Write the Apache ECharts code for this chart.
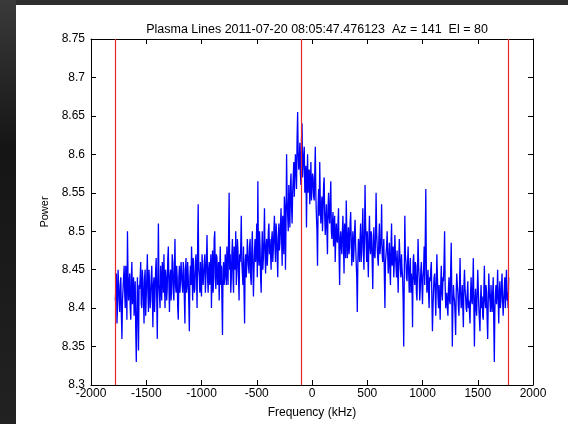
<!DOCTYPE html>
<html>
<head>
<meta charset="utf-8">
<script src="https://cdn.jsdelivr.net/npm/echarts@6/dist/echarts.min.js"></script>
<style>
html,body{margin:0;padding:0;background:#fff;}
#chart{width:568px;height:424px;}
</style>
</head>
<body>
<div id="chart"></div>
<script>
// Spectrum: frequency bins start/step (kHz)
var freqStart = -1780;
var freqStep = 10;
// Power values at bins freqStart + i*freqStep
var powerValues = [
  8.41, 8.445, 8.40, 8.43, 8.395, 8.44, 8.36, 8.425, 8.455, 8.40, 8.43, 8.50, 8.41, 8.445, 8.385, 8.46, 8.42, 8.39, 8.435, 8.33,
  8.44, 8.345, 8.425, 8.46, 8.40, 8.435, 8.38, 8.45, 8.415, 8.47, 8.395, 8.43, 8.41, 8.455, 8.375, 8.44, 8.42, 8.465, 8.36, 8.51,
  8.43, 8.455, 8.41, 8.445, 8.47, 8.40, 8.44, 8.425, 8.48, 8.395, 8.45, 8.43, 8.46, 8.41, 8.49, 8.42, 8.44, 8.385, 8.455, 8.435,
  8.46, 8.42, 8.45, 8.38, 8.465, 8.43, 8.44, 8.37, 8.455, 8.48, 8.41, 8.445, 8.425, 8.47, 8.40, 8.535, 8.44, 8.46, 8.415, 8.45,
  8.43, 8.47, 8.44, 8.495, 8.42, 8.46, 8.45, 8.40, 8.475, 8.44, 8.50, 8.425, 8.465, 8.445, 8.41, 8.48, 8.455, 8.365, 8.46, 8.44,
  8.45, 8.48, 8.43, 8.55, 8.47, 8.44, 8.49, 8.42, 8.465, 8.50, 8.45, 8.475, 8.41, 8.46, 8.52, 8.445, 8.48, 8.38, 8.47, 8.455,
  8.47, 8.445, 8.49, 8.43, 8.50, 8.415, 8.475, 8.46, 8.51, 8.565, 8.455, 8.48, 8.42, 8.50, 8.465, 8.53, 8.445, 8.49, 8.47, 8.51,
  8.49, 8.45, 8.50, 8.475, 8.52, 8.46, 8.495, 8.44, 8.51, 8.485, 8.53, 8.455, 8.50, 8.545, 8.45, 8.60, 8.52, 8.56, 8.505, 8.575,
  8.51, 8.57, 8.545, 8.60, 8.555, 8.655, 8.58, 8.615, 8.56, 8.64, 8.585, 8.61, 8.57, 8.505, 8.60, 8.575, 8.535, 8.59, 8.555, 8.57,
  8.54, 8.61, 8.52, 8.455, 8.555, 8.59, 8.51, 8.545, 8.525, 8.57, 8.495, 8.535, 8.47, 8.55, 8.51, 8.565, 8.49, 8.525, 8.505, 8.46,
  8.51, 8.485, 8.53, 8.43, 8.50, 8.47, 8.52, 8.445, 8.49, 8.54, 8.465, 8.505, 8.48, 8.525, 8.455, 8.50, 8.475, 8.515, 8.46, 8.395,
  8.49, 8.46, 8.51, 8.475, 8.53, 8.45, 8.56, 8.485, 8.50, 8.44, 8.52, 8.47, 8.495, 8.425, 8.505, 8.465, 8.55, 8.48, 8.455, 8.51,
  8.48, 8.535, 8.46, 8.49, 8.40, 8.47, 8.50, 8.445, 8.485, 8.43, 8.51, 8.465, 8.44, 8.495, 8.455, 8.475, 8.42, 8.49, 8.45, 8.47,
  8.44, 8.35, 8.52, 8.46, 8.435, 8.48, 8.42, 8.465, 8.445, 8.375, 8.47, 8.43, 8.455, 8.41, 8.49, 8.44, 8.425, 8.46, 8.405, 8.45,
  8.43, 8.555, 8.42, 8.45, 8.40, 8.435, 8.46, 8.37, 8.425, 8.445, 8.39, 8.47, 8.415, 8.43, 8.385, 8.455, 8.41, 8.435, 8.50, 8.40,
  8.42, 8.39, 8.44, 8.405, 8.485, 8.35, 8.43, 8.41, 8.365, 8.445, 8.42, 8.39, 8.465, 8.40, 8.43, 8.375, 8.45, 8.415, 8.395, 8.435,
  8.41, 8.38, 8.44, 8.405, 8.465, 8.35, 8.425, 8.39, 8.45, 8.40, 8.37, 8.43, 8.415, 8.385, 8.455, 8.40, 8.42, 8.36, 8.445, 8.41,
  8.43, 8.395, 8.44, 8.33, 8.42, 8.405, 8.45, 8.38, 8.435, 8.41, 8.445, 8.39, 8.425, 8.40, 8.45, 8.42, 8.44
];
// Power values at the in-between bins freqStart + i*freqStep + freqStep/2
var powerValuesMid = [
  8.425, 8.38, 8.45, 8.41, 8.43, 8.39, 8.41, 8.44, 8.42, 8.455, 8.385, 8.44, 8.43, 8.40, 8.44, 8.405, 8.44, 8.42, 8.37, 8.39,
  8.40, 8.43, 8.44, 8.405, 8.45, 8.41, 8.44, 8.39, 8.44, 8.42, 8.45, 8.40, 8.44, 8.42, 8.43, 8.395, 8.45, 8.41, 8.44, 8.43,
  8.40, 8.43, 8.46, 8.42, 8.43, 8.45, 8.41, 8.465, 8.43, 8.44, 8.41, 8.47, 8.42, 8.45, 8.43, 8.455, 8.40, 8.44, 8.42, 8.46,
  8.43, 8.46, 8.41, 8.45, 8.42, 8.46, 8.405, 8.44, 8.43, 8.45, 8.465, 8.42, 8.46, 8.44, 8.48, 8.45, 8.42, 8.43, 8.47, 8.43,
  8.46, 8.42, 8.465, 8.44, 8.45, 8.43, 8.47, 8.445, 8.42, 8.49, 8.44, 8.47, 8.43, 8.46, 8.45, 8.43, 8.41, 8.45, 8.43, 8.47,
  8.43, 8.455, 8.49, 8.45, 8.42, 8.47, 8.44, 8.48, 8.45, 8.43, 8.49, 8.44, 8.47, 8.48, 8.46, 8.43, 8.42, 8.46, 8.44, 8.49,
  8.455, 8.48, 8.44, 8.475, 8.46, 8.45, 8.49, 8.48, 8.44, 8.47, 8.50, 8.44, 8.47, 8.45, 8.49, 8.47, 8.48, 8.455, 8.50, 8.47,
  8.47, 8.49, 8.46, 8.50, 8.48, 8.51, 8.47, 8.49, 8.475, 8.51, 8.49, 8.52, 8.47, 8.53, 8.51, 8.54, 8.50, 8.53, 8.56, 8.53,
  8.55, 8.59, 8.575, 8.58, 8.62, 8.60, 8.59, 8.575, 8.62, 8.57, 8.60, 8.55, 8.585, 8.565, 8.55, 8.58, 8.56, 8.54, 8.575, 8.545,
  8.575, 8.545, 8.50, 8.53, 8.52, 8.54, 8.53, 8.50, 8.56, 8.52, 8.515, 8.50, 8.53, 8.52, 8.54, 8.50, 8.51, 8.48, 8.52, 8.49,
  8.49, 8.51, 8.47, 8.49, 8.48, 8.50, 8.48, 8.51, 8.465, 8.50, 8.49, 8.47, 8.51, 8.49, 8.48, 8.46, 8.50, 8.48, 8.44, 8.46,
  8.48, 8.49, 8.46, 8.50, 8.475, 8.49, 8.51, 8.46, 8.47, 8.49, 8.48, 8.50, 8.46, 8.48, 8.47, 8.49, 8.50, 8.465, 8.49, 8.47,
  8.49, 8.47, 8.475, 8.44, 8.46, 8.48, 8.47, 8.465, 8.45, 8.48, 8.455, 8.48, 8.46, 8.47, 8.44, 8.45, 8.46, 8.47, 8.44, 8.45,
  8.41, 8.44, 8.47, 8.44, 8.46, 8.445, 8.45, 8.42, 8.43, 8.46, 8.44, 8.46, 8.42, 8.45, 8.455, 8.41, 8.45, 8.43, 8.44, 8.48,
  8.49, 8.45, 8.43, 8.42, 8.44, 8.45, 8.41, 8.40, 8.44, 8.42, 8.43, 8.44, 8.40, 8.41, 8.43, 8.42, 8.44, 8.46, 8.43, 8.41,
  8.40, 8.425, 8.41, 8.45, 8.42, 8.40, 8.415, 8.39, 8.42, 8.43, 8.40, 8.43, 8.42, 8.41, 8.40, 8.43, 8.425, 8.40, 8.42, 8.40,
  8.395, 8.42, 8.41, 8.43, 8.40, 8.41, 8.40, 8.42, 8.425, 8.385, 8.41, 8.40, 8.39, 8.42, 8.41, 8.43, 8.385, 8.41, 8.42, 8.395,
  8.41, 8.42, 8.38, 8.40, 8.43, 8.42, 8.41, 8.42, 8.40, 8.43, 8.41, 8.41, 8.44, 8.43, 8.41, 8.40
];
// Vertical marker frequencies (kHz)
var markerFreqs = [-1780, -100, 1780];
// Axis ticks
var xTicks = [-2000, -1500, -1000, -500, 0, 500, 1000, 1500, 2000];
var yTicks = [8.3, 8.35, 8.4, 8.45, 8.5, 8.55, 8.6, 8.65, 8.7, 8.75];
var titleText = 'Plasma Lines 2011-07-20 08:05:47.476123  Az = 141  El = 80';
var xName = 'Frequency (kHz)';
var yName = 'Power';

var seriesData = [];
for (var i = 0; i < powerValues.length; i++) {
  seriesData.push([freqStart + i * freqStep, powerValues[i]]);
  if (i < powerValuesMid.length) seriesData.push([freqStart + i * freqStep + freqStep / 2, powerValuesMid[i]]);
}

var FONT = '"Liberation Sans", Arial, sans-serif';
var chart = echarts.init(document.getElementById('chart'), null, {renderer: 'canvas'});

function axisCommon(extra) {
  var base = {
    axisLine: {show: true, onZero: false, lineStyle: {color: '#000', width: 1}},
    axisTick: {show: true, inside: true, length: 5, lineStyle: {color: '#000', width: 1}},
    splitLine: {show: false}
  };
  for (var k in extra) base[k] = extra[k];
  return base;
}

var option = {
  animation: false,
  backgroundColor: '#ffffff',
  title: {
    text: titleText,
    left: 312, top: 18, textAlign: 'center',
    textStyle: {fontSize: 12.5, fontWeight: 'normal', color: '#000', fontFamily: FONT}
  },
  grid: {left: 91, top: 39, right: 35, bottom: 38, containLabel: false},
  graphic: [
    {type: 'rect', shape: {x: 0, y: 0, width: 568, height: 5}, style: {fill: '#2e2e2e'}, silent: true, z: 100},
    {type: 'rect', shape: {x: 0, y: 0, width: 16, height: 424},
     style: {fill: new echarts.graphic.LinearGradient(0, 0, 1, 1, [
       {offset: 0, color: '#3a3a3a'}, {offset: 0.35, color: '#151515'}, {offset: 1, color: '#222222'}])},
     silent: true, z: 100}
  ],
  xAxis: [
    axisCommon({
      type: 'value', min: xTicks[0], max: xTicks[xTicks.length - 1], interval: 500, position: 'bottom',
      name: xName, nameLocation: 'middle', nameGap: 22,
      nameTextStyle: {color: '#000', fontSize: 12, fontFamily: FONT},
      axisLabel: {color: '#000', fontSize: 12, fontFamily: FONT, margin: 3,
        formatter: function (v) { return String(v); }}
    }),
    axisCommon({
      type: 'value', min: xTicks[0], max: xTicks[xTicks.length - 1], interval: 500, position: 'top',
      axisLabel: {show: false}
    })
  ],
  yAxis: [
    axisCommon({
      type: 'value', min: yTicks[0], max: yTicks[yTicks.length - 1], interval: 0.05, position: 'left',
      name: yName, nameLocation: 'middle', nameGap: 36,
      nameTextStyle: {color: '#000', fontSize: 11, fontFamily: FONT},
      axisLabel: {color: '#000', fontSize: 12, fontFamily: FONT, margin: 6,
        formatter: function (v) { return String(parseFloat(v.toFixed(2))); }}
    }),
    axisCommon({
      type: 'value', min: yTicks[0], max: yTicks[yTicks.length - 1], interval: 0.05, position: 'right',
      axisLabel: {show: false}
    })
  ],
  series: [{
    type: 'line',
    xAxisIndex: 0, yAxisIndex: 0,
    data: seriesData,
    showSymbol: false,
    symbol: 'none',
    sampling: null,
    lineStyle: {color: '#0000ff', width: 1.3},
    silent: true,
    markLine: {
      silent: true,
      z: 10,
      symbol: ['none', 'none'],
      label: {show: false},
      lineStyle: {color: '#e8262a', width: 1.2, type: 'solid', opacity: 1},
      data: markerFreqs.map(function (f) { return {xAxis: f}; })
    }
  }]
};
chart.setOption(option);
</script>
</body>
</html>
